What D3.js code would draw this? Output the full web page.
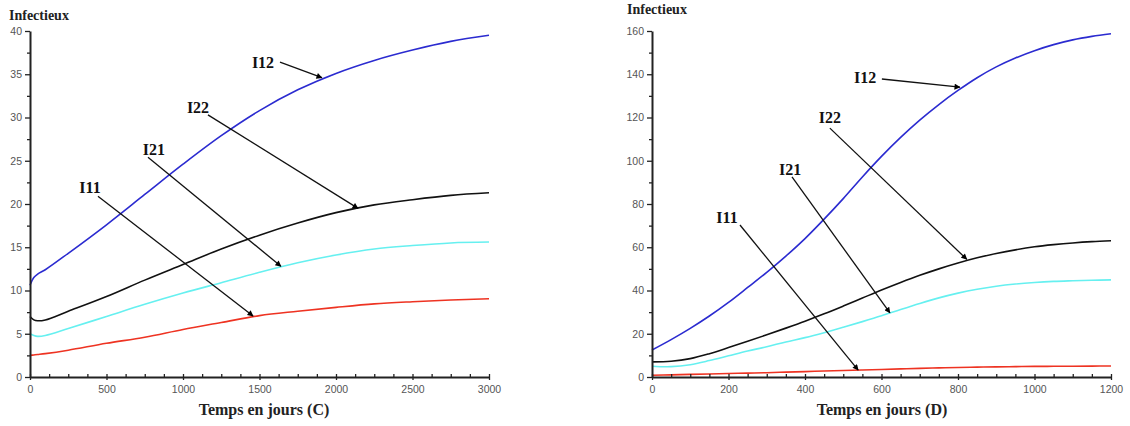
<!DOCTYPE html>
<html>
<head>
<meta charset="utf-8">
<script src="https://cdn.jsdelivr.net/npm/d3@7"></script>
<style>
  html, body { margin: 0; padding: 0; background: #fff; }
  svg { display: block; }
</style>
</head>
<body>
<svg id="chart" width="1130" height="426"></svg>
<script>
// ---------- DATA: panel C (left) ----------
const xC = [0, 25, 50, 100, 250, 500, 750, 1000, 1250, 1500, 1750, 2000, 2250, 2500, 2750, 3000];
const I12_C = [10.6, 11.5, 11.9, 12.4, 14.3, 17.6, 21.1, 24.6, 27.9, 30.8, 33.2, 35.1, 36.6, 37.8, 38.8, 39.5];
const I22_C = [7.0, 6.6, 6.5, 6.6, 7.6, 9.3, 11.2, 13.0, 14.8, 16.4, 17.8, 19.0, 19.9, 20.5, 21.0, 21.3];
const I21_C = [5.0, 4.8, 4.7, 4.8, 5.6, 7.0, 8.4, 9.7, 10.9, 12.1, 13.2, 14.1, 14.8, 15.2, 15.5, 15.6];
const I11_C = [2.5, 2.55, 2.6, 2.7, 3.1, 3.9, 4.6, 5.5, 6.3, 7.1, 7.6, 8.05, 8.45, 8.7, 8.9, 9.05];

// ---------- DATA: panel D (right) ----------
const xD = [0, 50, 100, 150, 200, 250, 300, 350, 400, 450, 500, 550, 600, 650, 700, 750, 800, 850, 900, 950, 1000, 1050, 1100, 1150, 1200];
const I12_D = [12.5, 17.3, 22.5, 28.2, 34.5, 41.4, 48.4, 55.9, 64.0, 73.0, 82.5, 92.5, 102.0, 110.8, 118.8, 126.0, 132.5, 138.4, 143.4, 147.5, 150.9, 153.7, 155.9, 157.5, 158.7];
const I22_D = [7.0, 7.3, 8.5, 10.8, 13.6, 16.5, 19.5, 22.6, 25.8, 29.2, 32.8, 36.5, 40.2, 43.7, 47.0, 50.0, 52.7, 55.1, 57.1, 58.8, 60.2, 61.2, 62.0, 62.6, 63.0];
const I21_D = [5.0, 4.8, 5.7, 7.6, 9.8, 12.0, 14.0, 16.2, 18.2, 20.5, 23.0, 25.6, 28.3, 31.2, 34.0, 36.6, 38.8, 40.6, 42.0, 43.0, 43.7, 44.2, 44.5, 44.75, 44.9];
const I11_D = [0.8, 1.0, 1.2, 1.4, 1.6, 1.8, 2.0, 2.25, 2.5, 2.75, 3.0, 3.25, 3.5, 3.75, 4.0, 4.2, 4.4, 4.55, 4.7, 4.8, 4.9, 4.95, 5.0, 5.05, 5.1];

// ---------- TICKS ----------
const yTicksC = [0, 5, 10, 15, 20, 25, 30, 35, 40];
const yMinorC = [2.5, 7.5, 12.5, 17.5, 22.5, 27.5, 32.5, 37.5];
const xTicksC = [0, 500, 1000, 1500, 2000, 2500, 3000];
const xMinorC = [125, 250, 375, 625, 750, 875, 1125, 1250, 1375, 1625, 1750, 1875, 2125, 2250, 2375, 2625, 2750, 2875];
const yTicksD = [0, 20, 40, 60, 80, 100, 120, 140, 160];
const yMinorD = [10, 30, 50, 70, 90, 110, 130, 150];
const xTicksD = [0, 200, 400, 600, 800, 1000, 1200];
const xMinorD = [50, 100, 150, 250, 300, 350, 450, 500, 550, 650, 700, 750, 850, 900, 950, 1050, 1100, 1150];

// ---------- LABELS / ANNOTATIONS (data coordinates) ----------
const seriesNames = ["I12", "I22", "I21", "I11"];
// [labelX, labelY, arrowStartX, arrowStartY, arrowEndX, arrowEndY]
const annotC = [
  [1523, 36.3, 1634, 36.4, 1908, 34.6],
  [1098, 31.1, 1163, 30.3, 2144, 19.5],
  [810, 26.2, 771, 25.4, 1640, 12.8],
  [392, 21.8, 444, 20.9, 1458, 7.05]
];
const annotD = [
  [557, 138.3, 601, 137.8, 805, 134.0],
  [465, 119.8, 465, 115.1, 823, 54.4],
  [361, 95.7, 366, 92.5, 622, 29.7],
  [196, 73.5, 230, 70.3, 539, 3.2]
];
const xTitleC = "Temps en jours (C)";
const xTitleD = "Temps en jours (D)";
const yTitle = "Infectieux";

const colors = { I12: "#2b2bd0", I22: "#111111", I21: "#66f0f0", I11: "#ee3322" };

const panels = [
  { x: xC, series: { I12: I12_C, I22: I22_C, I21: I21_C, I11: I11_C },
    xDom: [0, 3000], yDom: [0, 40], left: 30, right: 489, top: 31, bottom: 377,
    yT: yTicksC, yM: yMinorC, xT: xTicksC, xM: xMinorC, annot: annotC,
    xTitle: xTitleC, xTitleX: 264, yTitleX: 9, yTitleY: 20 },
  { x: xD, series: { I12: I12_D, I22: I22_D, I21: I21_D, I11: I11_D },
    xDom: [0, 1200], yDom: [0, 160], left: 652, right: 1111, top: 31, bottom: 377,
    yT: yTicksD, yM: yMinorD, xT: xTicksD, xM: xMinorD, annot: annotD,
    xTitle: xTitleD, xTitleX: 882, yTitleX: 627, yTitleY: 14 }
];

const svg = d3.select("#chart");
const defs = svg.append("defs");
defs.append("marker")
  .attr("id", "arrow")
  .attr("viewBox", "0 0 10 10")
  .attr("refX", 9).attr("refY", 5)
  .attr("markerWidth", 8).attr("markerHeight", 6)
  .attr("markerUnits", "userSpaceOnUse")
  .attr("orient", "auto")
  .append("path").attr("d", "M0,0 L10,5 L0,10 Z").attr("fill", "#000");

const fmt = d3.format("d");

panels.forEach(p => {
  const x = d3.scaleLinear().domain(p.xDom).range([p.left, p.right]);
  const y = d3.scaleLinear().domain(p.yDom).range([p.bottom, p.top]);
  const g = svg.append("g");

  // curves
  const order = ["I11", "I21", "I22", "I12"];
  order.forEach(name => {
    const vals = p.series[name];
    const pts = p.x.map((xv, i) => [xv, vals[i]]);
    g.append("path")
      .datum(pts)
      .attr("fill", "none")
      .attr("stroke", colors[name])
      .attr("stroke-width", 1.6)
      .attr("d", d3.line().x(d => x(d[0])).y(d => y(d[1])).curve(d3.curveCatmullRom.alpha(0.5)));
  });

  // y axis
  const yAxis = g.append("g").attr("transform", `translate(${p.left},0)`)
    .call(d3.axisLeft(y).tickValues(p.yT).tickFormat(fmt).tickSize(5).tickPadding(3).tickSizeOuter(0));
  yAxis.select(".domain").attr("stroke", "#222").attr("stroke-width", 2);
  yAxis.selectAll(".tick line").attr("stroke", "#222").attr("stroke-width", 1.3);
  yAxis.selectAll(".tick text").attr("fill", "#555").style("font-family", "'Liberation Sans', Arial, sans-serif").style("font-size", "10.5px");
  const yMin = g.append("g").attr("transform", `translate(${p.left},0)`)
    .call(d3.axisLeft(y).tickValues(p.yM).tickSize(3).tickFormat(""));
  yMin.select(".domain").remove();
  yMin.selectAll(".tick line").attr("stroke", "#222").attr("stroke-width", 1.3);

  // x axis
  const xAxis = g.append("g").attr("transform", `translate(0,${p.bottom})`)
    .call(d3.axisBottom(x).tickValues(p.xT).tickFormat(fmt).tickSize(3).tickPadding(6).tickSizeOuter(0));
  xAxis.select(".domain").attr("stroke", "#222").attr("stroke-width", 2);
  xAxis.selectAll(".tick line").attr("stroke", "#222").attr("stroke-width", 1.3).attr("y1", -3);
  xAxis.selectAll(".tick text").attr("fill", "#555").style("font-family", "'Liberation Sans', Arial, sans-serif").style("font-size", "10.5px");
  const xMin = g.append("g").attr("transform", `translate(0,${p.bottom})`)
    .call(d3.axisBottom(x).tickValues(p.xM).tickSize(-3).tickFormat(""));
  xMin.select(".domain").remove();
  xMin.selectAll(".tick line").attr("stroke", "#222").attr("stroke-width", 1.3);

  // titles
  g.append("text").attr("x", p.yTitleX).attr("y", p.yTitleY)
    .style("font-family", "'Liberation Serif', 'Times New Roman', serif")
    .style("font-weight", "bold").style("font-size", "14px").attr("fill", "#222")
    .text(yTitle);
  g.append("text").attr("x", p.xTitleX).attr("y", 415).attr("text-anchor", "middle")
    .style("font-family", "'Liberation Serif', 'Times New Roman', serif")
    .style("font-weight", "bold").style("font-size", "16px").attr("fill", "#222")
    .text(p.xTitle);

  // annotations
  p.annot.forEach((a, i) => {
    g.append("line")
      .attr("x1", x(a[2])).attr("y1", y(a[3]))
      .attr("x2", x(a[4])).attr("y2", y(a[5]))
      .attr("stroke", "#111").attr("stroke-width", 1.3)
      .attr("marker-end", "url(#arrow)");
    g.append("text")
      .attr("x", x(a[0])).attr("y", y(a[1]) + 5)
      .attr("text-anchor", "middle")
      .style("font-family", "'Liberation Serif', 'Times New Roman', serif")
      .style("font-weight", "bold").style("font-size", "16px").attr("fill", "#111")
      .text(seriesNames[i]);
  });
});
</script>
</body>
</html>
